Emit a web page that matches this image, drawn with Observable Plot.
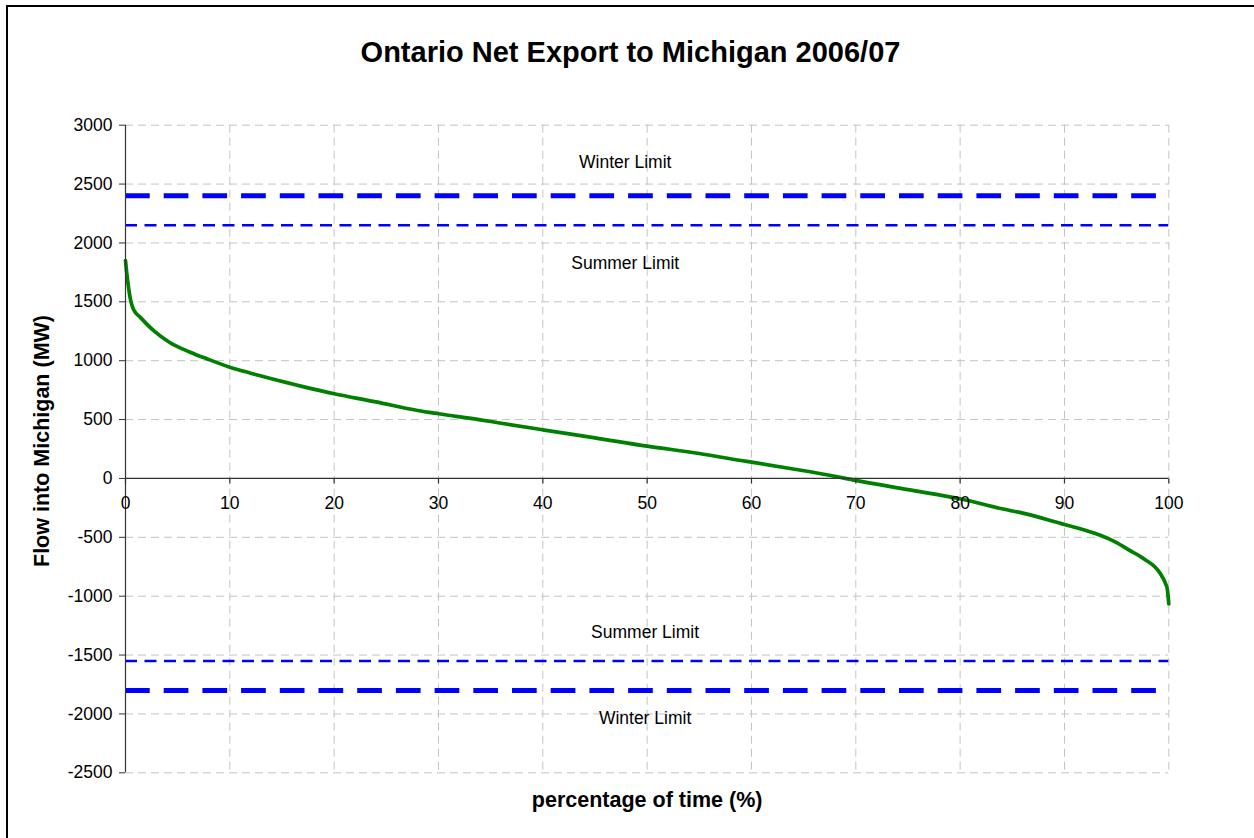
<!DOCTYPE html>
<html><head><meta charset="utf-8">
<script src="https://cdn.jsdelivr.net/npm/d3@7"></script>
<script src="https://cdn.jsdelivr.net/npm/@observablehq/plot@0.6"></script>
<style>
html,body{margin:0;padding:0;background:#fff;overflow:hidden;}
#wrap{position:relative;width:1254px;height:838px;font-family:"Liberation Sans",Arial,sans-serif;}
#frame{position:absolute;left:6px;top:5px;width:1270px;height:870px;border:2px solid #000;box-sizing:border-box;z-index:5;pointer-events:none;}
#title{position:absolute;left:7px;width:1247px;top:33px;height:38px;line-height:38px;text-align:center;font-weight:bold;font-size:29px;color:#000;}
#chart{position:absolute;left:0;top:100px;}
</style></head><body>
<div id="wrap"><div id="frame"></div><div id="title">Ontario Net Export to Michigan 2006/07</div><div id="chart"></div></div>
<script>
// Duration curve: percentage of time vs. flow into Michigan (MW)
const pct  = [0, 0.1, 0.25, 0.5, 0.8, 1.4, 2.7, 4.2, 6.2, 7.8, 10, 12, 14, 17, 20, 24, 28, 30, 34, 36, 40, 45, 50, 55, 59, 60, 64, 67.6, 70, 75, 80, 84, 86, 90, 92, 93.5, 95, 96, 97.6, 99.2, 99.7, 99.85, 100];
const flow = [1850, 1760, 1650, 1510, 1430, 1370, 1255, 1157, 1072, 1016, 945, 894, 846, 780, 719, 650, 577, 549, 498, 469, 413, 345, 274, 212, 152, 138, 80, 25, -17, -95, -173, -258, -295, -391, -440, -485, -545, -598, -682, -810, -895, -937, -1065];

// Transfer limits (MW)
const winterLimits = [2400, -1800];
const summerLimits = [2150, -1550];

// Limit annotations (data coordinates)
const labelText = ["Winter Limit", "Summer Limit", "Summer Limit", "Winter Limit"];
const labelX = [47.9, 47.9, 49.8, 49.8];
const labelY = [2686, 1828, -1306, -2041];

// Axes
const xTicks = [0, 10, 20, 30, 40, 50, 60, 70, 80, 90, 100];
const yTicks = [3000, 2500, 2000, 1500, 1000, 500, 0, -500, -1000, -1500, -2000, -2500];

const series = pct.map((p, i) => ({p, v: flow[i]}));
const tickDown = {draw(ctx) { ctx.moveTo(0, 0); ctx.lineTo(0, 5); }};
const gridStyle = {stroke: "#c4c4c4", strokeOpacity: 1, strokeWidth: 1, strokeDasharray: "8,5"};

const chart = Plot.plot({
  width: 1254,
  height: 738,
  marginTop: 24.7,
  marginBottom: 65.7,
  marginLeft: 125,
  marginRight: 85.7,
  style: {fontFamily: "'Liberation Sans', Arial, sans-serif", fontSize: "17.5px", color: "#000", background: "#fff"},
  x: {domain: [0, 100], axis: null},
  y: {domain: [-2500, 3000]},
  marks: [
    Plot.gridY(yTicks, gridStyle),
    Plot.gridX(xTicks.slice(1), gridStyle),
    Plot.ruleY(winterLimits, {stroke: "#0000ff", strokeWidth: 5, strokeDasharray: "24.7,14"}),
    Plot.ruleY(summerLimits, {stroke: "#0000ff", strokeWidth: 2.5, strokeDasharray: "12,7.5"}),
    Plot.line(series, {x: "p", y: "v", stroke: "#008000", strokeWidth: 3.7, curve: "monotone-x"}),
    Plot.ruleX([0], {stroke: "#333", strokeWidth: 1.2}),
    Plot.ruleY([0], {stroke: "#333", strokeWidth: 1.2}),
    Plot.axisY(yTicks, {tickSize: 6, tickPadding: 7, fontSize: 17.5, label: null, tickFormat: d => String(d), stroke: "#333"}),
    Plot.dot(xTicks, {x: d => d, y: () => 0, symbol: tickDown, stroke: "#333", fill: "none", strokeWidth: 1.2}),
    Plot.text(xTicks, {x: d => d, y: () => 0, dy: 25, text: d => String(d), fontSize: 17.5, fill: "#000"}),
    Plot.text(labelText, {x: (d, i) => labelX[i], y: (d, i) => labelY[i], text: d => d, fontSize: 17.5, fill: "#000"}),
    Plot.text(["Flow into Michigan (MW)"], {frameAnchor: "left", textAnchor: "middle", dx: -83, dy: -8, rotate: -90, text: d => d, fontWeight: "bold", fontSize: 21.5, fill: "#000"}),
    Plot.text(["percentage of time (%)"], {frameAnchor: "bottom", dy: 34.4, text: d => d, fontWeight: "bold", fontSize: 21.5, fill: "#000"})
  ]
});
document.getElementById("chart").appendChild(chart);
</script>
</body></html>
